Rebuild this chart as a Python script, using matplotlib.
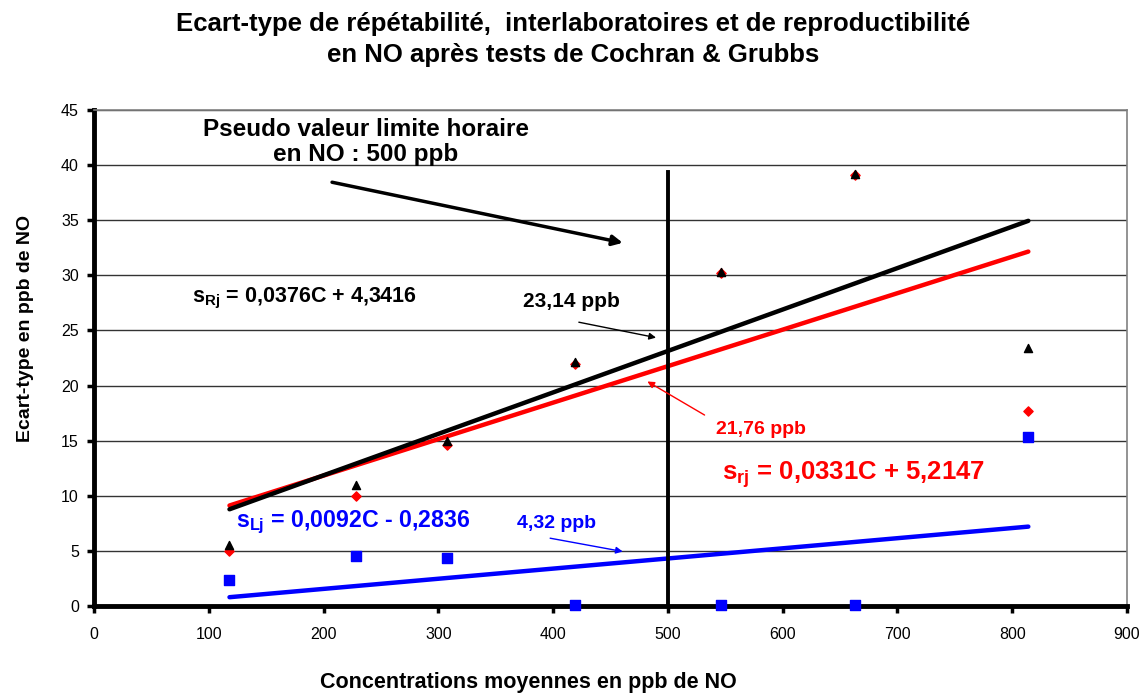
import matplotlib
matplotlib.use("Agg")
import matplotlib.pyplot as plt
import numpy as np

plt.rcParams['font.family'] = ['Liberation Sans', 'DejaVu Sans']
plt.rcParams['mathtext.fontset'] = 'custom'
plt.rcParams['mathtext.rm'] = 'Liberation Sans'
plt.rcParams['mathtext.bf'] = 'Liberation Sans:bold'

# Data
conc = [118, 228, 307.5, 419, 546, 663, 814]
s_R = [5.5, 11.0, 15.0, 22.1, 30.3, 39.2, 23.4]
s_r = [5.0, 10.0, 14.6, 22.0, 30.2, 39.1, 17.7]
s_L = [2.4, 4.5, 4.4, 0.05, 0.05, 0.05, 15.3]

# Trend line coefficients (slope, intercept) as shown on the chart
fit_R = (0.0376, 4.3416)
fit_r = (0.0331, 5.2147)
fit_L = (0.0092, -0.2836)
limit = 500

xticks = list(range(0, 901, 100))
yticks = list(range(0, 46, 5))

fig = plt.figure(figsize=(11.47, 6.95), dpi=100)
ax = fig.add_axes([0.082, 0.128, 0.9006, 0.7137])
ax.set_xlim(0, 900)
ax.set_ylim(0, 45)

for y in yticks[1:]:
    ax.axhline(y, color='#333333', lw=1.0, zorder=1)

xs = np.array([min(conc), max(conc)])
ax.plot(xs, fit_r[0] * xs + fit_r[1], color='#ff0000', lw=3.2, zorder=3, solid_capstyle='round')
ax.plot(xs, fit_R[0] * xs + fit_R[1], color='black', lw=3.2, zorder=3, solid_capstyle='round')
ax.plot(xs, fit_L[0] * xs + fit_L[1], color='#0000ff', lw=3.2, zorder=3, solid_capstyle='round')

ax.plot([limit, limit], [0, 39.4], color='black', lw=2.8, zorder=3)

ax.scatter(conc, s_r, marker='D', s=22, color='#ff0000', zorder=4, clip_on=False)
ax.scatter(conc, s_R, marker='^', s=34, color='black', zorder=5, clip_on=False)
ax.scatter(conc, s_L, marker='s', s=50, color='#0000ff', zorder=6, clip_on=False)

for side in ['top', 'right']:
    ax.spines[side].set_color('#808080')
    ax.spines[side].set_linewidth(1.2)
for side in ['left', 'bottom']:
    ax.spines[side].set_color('black')
    ax.spines[side].set_linewidth(3.5)

ax.set_xticks(xticks)
ax.set_yticks(yticks)
ax.tick_params(axis='both', direction='out', length=5, width=2.5, labelsize=11.5, colors='black')
ax.tick_params(axis='x', pad=10)
ax.tick_params(axis='y', pad=6)

fig.text(0.4604, 0.0173, 'Concentrations moyennes en ppb de NO', ha='center', va='center',
         fontsize=15.5, fontweight='bold')
fig.text(0.0218, 0.528, 'Ecart-type en ppb de NO', ha='center', va='center', rotation=90,
         fontsize=14, fontweight='bold')

fig.text(0.5, 0.943, "Ecart-type de répétabilité,  interlaboratoires et de reproductibilité\nen NO après tests de Cochran & Grubbs",
         ha='center', va='center', fontsize=18.5, fontweight='bold', linespacing=1.4)

# Annotations
ax.text(237, 42.1, 'Pseudo valeur limite horaire\nen NO : 500 ppb', ha='center', va='center',
        fontsize=17.5, fontweight='bold', linespacing=1.1)
ax.annotate('', xy=(463, 32.9), xytext=(205, 38.5),
            arrowprops=dict(arrowstyle='-|>', color='black', lw=2.5, mutation_scale=15))

ax.text(85, 27.9, r'$\mathbf{s}_{\mathbf{Rj}}$' + ' = 0,0376C + 4,3416', ha='left', va='center',
        fontsize=15.5, fontweight='bold', color='black')
ax.text(415.5, 27.6, '23,14 ppb', ha='center', va='center', fontsize=15, fontweight='bold')
ax.annotate('', xy=(492, 24.3), xytext=(420, 25.8),
            arrowprops=dict(arrowstyle='-|>', color='black', lw=1, mutation_scale=10))

ax.text(547, 11.9, r'$\mathbf{s}_{\mathbf{rj}}$' + ' = 0,0331C + 5,2147', ha='left', va='center',
        fontsize=18.5, fontweight='bold', color='#ff0000')
ax.text(581, 16.0, '21,76 ppb', ha='center', va='center', fontsize=14, fontweight='bold', color='#ff0000')
ax.annotate('', xy=(480, 20.5), xytext=(534, 17.2),
            arrowprops=dict(arrowstyle='-|>', color='#ff0000', lw=1, mutation_scale=10))

ax.text(124, 7.6, r'$\mathbf{s}_{\mathbf{Lj}}$' + ' = 0,0092C - 0,2836', ha='left', va='center',
        fontsize=16.7, fontweight='bold', color='#0000ff')
ax.text(403, 7.5, '4,32 ppb', ha='center', va='center', fontsize=14, fontweight='bold', color='#0000ff')
ax.annotate('', xy=(463, 4.9), xytext=(395, 6.2),
            arrowprops=dict(arrowstyle='-|>', color='#0000ff', lw=1, mutation_scale=10))

fig.savefig('out.png', dpi=100)
